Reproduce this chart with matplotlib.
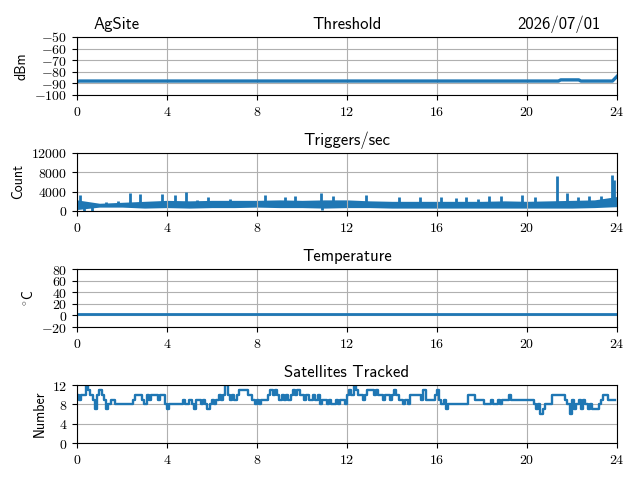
import numpy as np
import matplotlib
matplotlib.use("Agg")
import matplotlib.pyplot as plt
from matplotlib.ticker import FuncFormatter

plt.rcParams["mathtext.fontset"] = "cm"

# --- Threshold (dBm) ---
thr_hours = [0.0, 0.1, 0.6, 2.0, 6.0, 10.0, 11.5, 15.0, 18.0, 21.4, 21.5, 22.3, 22.4, 23.8, 24.0]
thr_dbm = [-88.5, -88.0, -88.0, -88.0, -88.0, -88.0, -88.0, -88.0, -88.0, -88.0, -87.0, -87.0, -88.0, -88.0, -84.0]

# --- Triggers/sec: dense band (low / high envelope per hour) plus spikes ---
trig_hours = list(range(25))
trig_low = [300, 800, 800, 600, 700, 600, 700, 700, 800, 700, 700, 600, 700, 700, 600,
            600, 600, 600, 600, 600, 600, 600, 600, 700, 900]
trig_high = [2300, 1600, 1800, 2000, 2200, 2100, 2200, 2200, 2200, 2300, 2200, 2300, 2300, 2100, 2000,
             2000, 2000, 2000, 2000, 2100, 2000, 2100, 2200, 2300, 3000]
spike_hours = [0.14, 1.30, 1.81, 2.36, 2.81, 3.80, 4.35, 4.84, 5.34, 5.83, 6.34, 6.79, 8.37, 9.24,
               9.69, 10.83, 11.36, 12.86, 14.31, 15.25, 16.16, 16.85, 17.30, 17.84, 18.30, 18.84,
               19.80, 20.34, 21.34, 21.79, 22.25, 22.77, 23.30, 23.79, 23.88]
spike_counts = [3400, 1900, 2000, 3800, 3600, 3500, 3400, 4000, 2300, 2800, 2100, 2500, 3300, 2800,
                3000, 3700, 3200, 3300, 2800, 2900, 2900, 2700, 2800, 2500, 3000, 3100,
                3300, 2900, 7300, 3700, 2800, 3000, 3000, 7400, 6500]
dip_hours = [0.30, 0.65, 10.90]
dip_counts = [0, 0, 300]

# --- Temperature (C) ---
temp_hours = [0, 4, 8, 12, 16, 20, 24]
temp_c = [3.0, 3.0, 3.0, 3.0, 3.0, 3.0, 3.0]

# --- Satellites tracked, 6-minute steps ---
sat_counts = [
    10, 9, 10, 10, 12, 11, 10, 9, 7, 10,
    11, 10, 9, 7, 8, 9, 9, 8, 8, 8,
    8, 8, 8, 8, 8, 9, 10, 10, 10, 9,
    8, 10, 9, 10, 10, 10, 9, 10, 10, 8,
    7, 8, 8, 8, 8, 8, 8, 9, 8, 8,
    9, 8, 7, 9, 9, 8, 9, 8, 7, 8,
    9, 8, 9, 10, 9, 10, 12, 10, 9, 10,
    9, 10, 11, 11, 11, 11, 10, 10, 9, 8,
    9, 8, 9, 9, 9, 10, 11, 10, 11, 10,
    9, 10, 9, 10, 9, 10, 11, 10, 11, 10,
    10, 9, 10, 9, 9, 10, 9, 10, 8, 9,
    9, 8, 9, 8, 8, 9, 8, 9, 9, 8,
    10, 11, 10, 12, 11, 10, 10, 9, 10, 11,
    11, 11, 10, 11, 10, 10, 9, 10, 10, 9,
    10, 11, 10, 9, 9, 8, 9, 8, 10, 10,
    10, 10, 10, 9, 11, 9, 9, 9, 9, 10,
    11, 9, 8, 9, 7, 8, 8, 8, 8, 8,
    8, 8, 8, 8, 10, 10, 10, 9, 9, 9,
    9, 8, 8, 8, 9, 8, 8, 9, 8, 9,
    9, 9, 10, 9, 9, 9, 9, 9, 9, 9,
    9, 9, 9, 8, 7, 8, 6, 7, 8, 8,
    8, 10, 10, 10, 10, 10, 10, 9, 8, 6,
    9, 7, 8, 9, 7, 9, 8, 7, 8, 7,
    7, 7, 8, 9, 10, 10, 9, 9, 9, 9,
]
sat_hours = [i * 0.1 for i in range(len(sat_counts))]

site = "AgSite"
date = "2026/07/01"
C0 = "#1f77b4"
SF = dict(fontfamily="cmss10")

math_fmt = FuncFormatter(lambda v, p: f"${v:g}$")

fig, axes = plt.subplots(4, 1, figsize=(6.4, 4.8), dpi=100)
fig.subplots_adjust(left=0.1203, right=0.964, top=0.923, bottom=0.077, hspace=1.0)

ax = axes[0]
ax.plot(thr_hours, thr_dbm, color=C0, lw=2.4)
ax.set_ylim(-100, -50)
ax.set_yticks(np.arange(-100, -49, 10))
ax.set_ylabel("dBm", **SF)
ax.set_title("Threshold", fontsize=12, **SF)
ax.set_title(site, loc="left", fontsize=12, x=0.03, **SF)
ax.set_title(date, loc="right", fontsize=12, x=0.97, **SF)

ax = axes[1]
ax.fill_between(trig_hours, trig_low, trig_high, color=C0, lw=0)
ax.vlines(spike_hours, 1500, spike_counts, color=C0, lw=2)
ax.vlines(dip_hours, dip_counts, 1200, color=C0, lw=2)
ax.set_ylim(0, 12000)
ax.set_yticks([0, 4000, 8000, 12000])
ax.set_ylabel("Count", **SF)
ax.set_title("Triggers/sec", fontsize=12, **SF)

ax = axes[2]
ax.plot(temp_hours, temp_c, color=C0, lw=2)
ax.set_ylim(-20, 80)
ax.set_yticks(np.arange(-20, 81, 20))
ax.set_ylabel(r"$^{\circ}\mathsf{C}$")
ax.set_title("Temperature", fontsize=12, **SF)

ax = axes[3]
ax.step(sat_hours, sat_counts, where="post", color=C0, lw=1.7)
ax.set_ylim(0, 12)
ax.set_yticks([0, 4, 8, 12])
ax.set_ylabel("Number", **SF)
ax.set_title("Satellites Tracked", fontsize=12, **SF)

for ax in axes:
    ax.set_xlim(0, 24)
    ax.set_xticks(range(0, 25, 4))
    ax.xaxis.set_major_formatter(math_fmt)
    ax.yaxis.set_major_formatter(math_fmt)
    ax.grid(True)

fig.savefig("out.png")
